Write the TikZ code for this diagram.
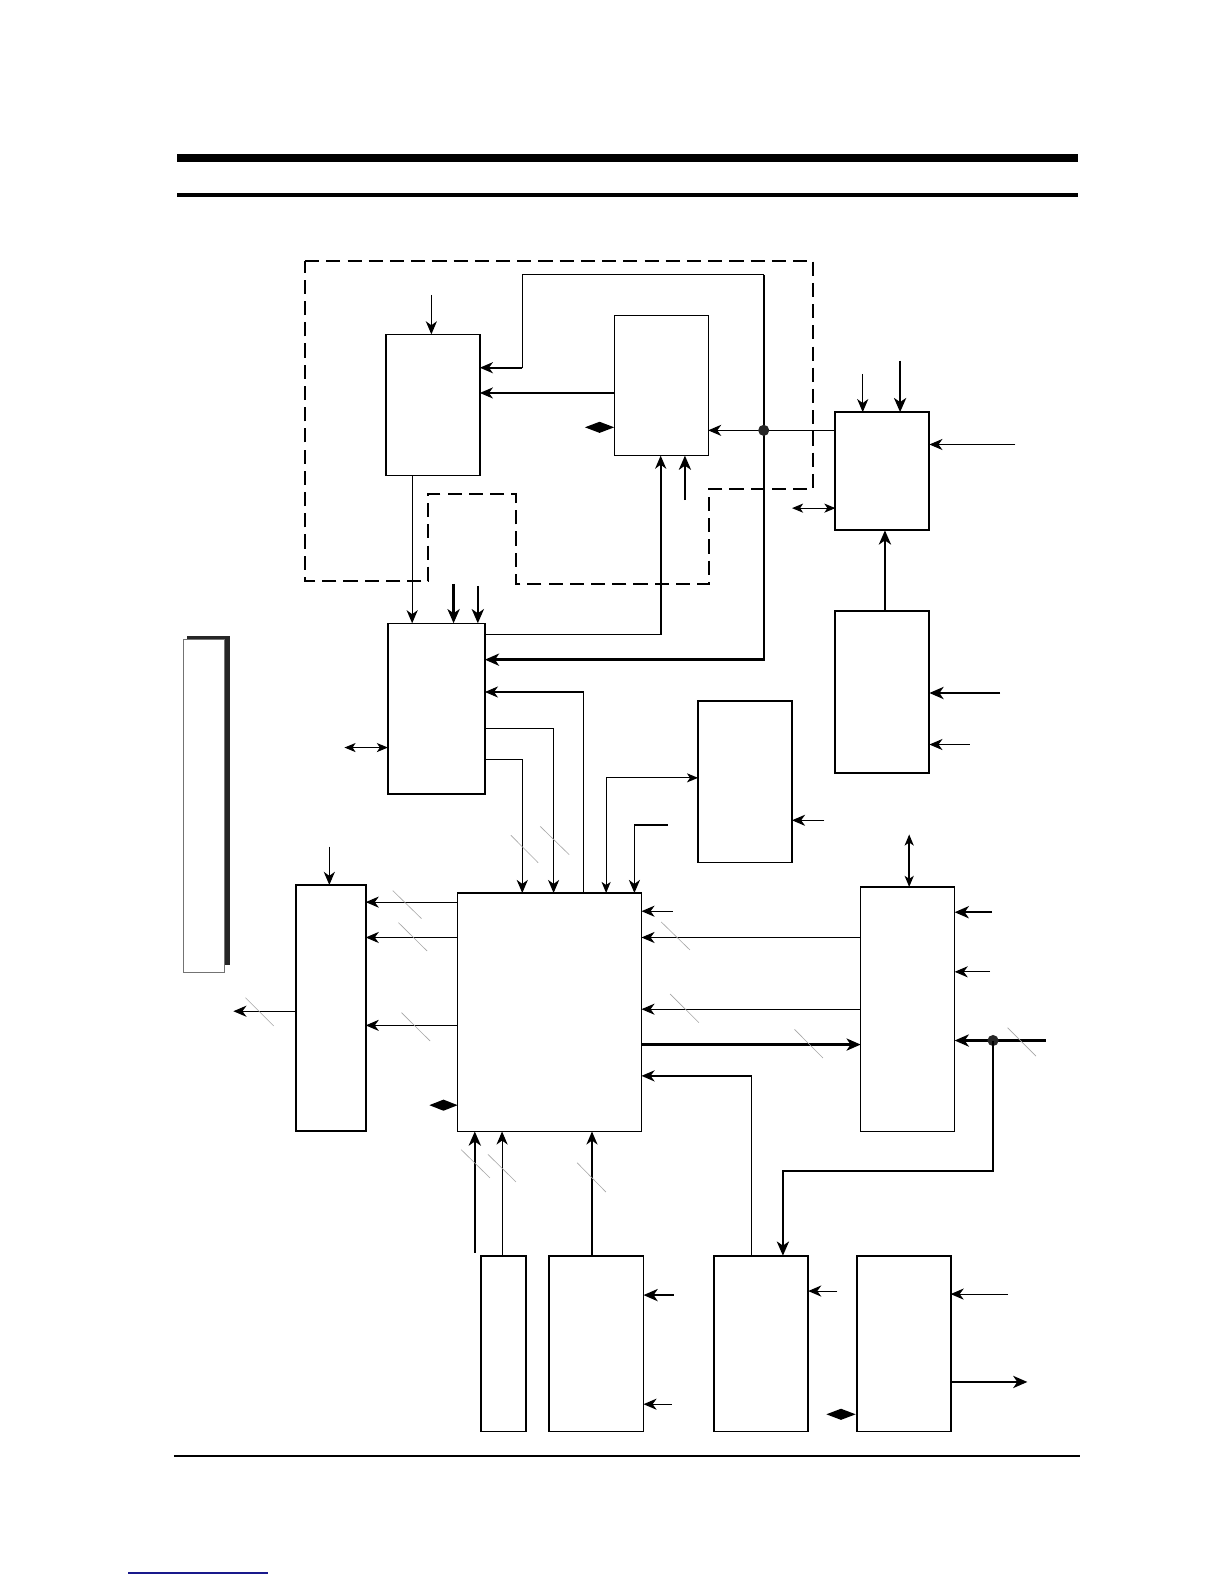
\documentclass[tikz,border=0pt]{standalone}
\usetikzlibrary{arrows.meta}
\definecolor{linkblue}{rgb}{0.1,0.1,0.55}
\begin{document}
\begin{tikzpicture}[x=1pt,y=-1pt,
  box/.style={draw, line width=1.3pt, inner sep=0pt, outer sep=0pt, anchor=north west},
  boxb/.style={box, line width=1.9pt},
  arr/.style={line width=1.1pt, -{Stealth[length=13pt,width=11pt,inset=4pt]}},
  marr/.style={line width=1.7pt, -{Stealth[length=13pt,width=11pt,inset=4pt]}},
  tarr/.style={line width=2.4pt, -{Stealth[length=14pt,width=12pt,inset=4pt]}},
  darr/.style={line width=1.1pt, {Stealth[length=11pt,width=9pt,inset=3pt]}-{Stealth[length=11pt,width=9pt,inset=3pt]}},
  slash/.style={black!35, line width=0.6pt},
  dot/.style={circle, fill=black!85, inner sep=0pt, minimum size=11pt},
  dashline/.style={line width=2.2pt, dash pattern=on 14pt off 7pt}
]
\useasboundingbox (0,0) rectangle (1212,1568);
\fill[white] (0,0) rectangle (1212,1568);

% header and footer rules
\fill (175,152) rectangle (1067,160);
\fill (175,191) rectangle (1067,195);
\draw[line width=2.4pt] (172,1441) -- (1069,1441);
\draw[line width=1.6pt, linkblue] (127,1557) -- (265,1557);

% left panel
\fill[black!85] (185.5,630) rectangle (227.5,955.5);
\draw[fill=white, draw=black!55, line width=1pt] (181.5,633) rectangle (222,962.5);

% dashed outline
\draw[dashline] (302,258) -- (805,258) -- (805,484) -- (702,484) -- (702,578) -- (511,578)
  -- (511,489) -- (424,489) -- (424,575) -- (302,575) -- cycle;

% boxes
\node[box, minimum width=93pt, minimum height=140pt] (A) at (382,331) {};
\node[box, minimum width=93pt, minimum height=139pt] (B) at (608,312) {};
\node[box, minimum width=96pt, minimum height=169pt] (C) at (384,617) {};
\node[boxb, minimum width=93pt, minimum height=117pt] (D) at (827,408) {};
\node[boxb, minimum width=93pt, minimum height=160pt] (E) at (827,605) {};
\node[box, minimum width=93pt, minimum height=160pt] (F) at (691,694) {};
\node[box, minimum width=182pt, minimum height=236pt] (M) at (453,884) {};
\node[boxb, minimum width=69pt, minimum height=244pt] (H) at (293,876) {};
\node[box, minimum width=93pt, minimum height=242pt] (G) at (852,878) {};
\node[boxb, minimum width=45pt, minimum height=174pt] (K) at (476,1243) {};
\node[boxb, minimum width=94pt, minimum height=174pt] (L) at (543,1243) {};
\node[boxb, minimum width=93pt, minimum height=174pt] (J) at (707,1243) {};
\node[boxb, minimum width=93pt, minimum height=174pt] (N) at (848,1243) {};

% top group connectors
\coordinate (pA) at (427,292);
\draw[arr] (pA) -- (pA |- A.north);
\draw[arr] (B.west |- 0,389) -- (A.east |- 0,389);
\coordinate (jt) at (756,272);
\draw[line width=1.2pt] (jt) -- (517,272) -- (517,364);
\draw[marr] (517,364) -- (A.east |- 0,364);
\draw[tarr] (jt) -- (756,653) -- (C.east |- 0,653);
\draw[arr] (D.west |- 0,426) -- (B.east |- 0,426);
\node[dot] (j1) at (756,426) {};
\fill (579,423) -- (593.5,417.5) -- (608,423) -- (593.5,428.5) -- cycle;
\draw[marr] (C.east |- 0,628) -| (B.south -| 654,0);
\coordinate (pB) at (678,495);
\draw[tarr] (pB) -- (pB |- B.south);

% C connectors
\draw[arr] (A.south -| 408,0) -- (C.north -| 408,0);
\coordinate (pC1) at (449,578);
\draw[tarr] (pC1) -- (pC1 |- C.north);
\coordinate (pC2) at (473,580);
\draw[tarr] (pC2) -- (pC2 |- C.north);
\draw[arr] (M.north -| 578,0) |- (C.east |- 0,685);
\draw[arr] (C.east |- 0,721) -| (M.north -| 548,0);
\draw[arr] (C.east |- 0,752) -| (M.north -| 517,0);
\coordinate (pC3) at (341,740);
\draw[darr] (pC3) -- (pC3 -| C.west);

% F connectors
\draw[darr] (M.north -| 600,0) |- (F.west |- 0,770);
\coordinate (pM1) at (661,817);
\draw[marr] (pM1) -| (M.north -| 628,0);
\coordinate (pF) at (816,812);
\draw[arr] (pF) -- (pF -| F.east);

% D and E
\coordinate (pD1) at (854,370);
\draw[arr] (pD1) -- (pD1 |- D.north);
\coordinate (pD2) at (891,357);
\draw[tarr] (pD2) -- (pD2 |- D.north);
\coordinate (pD3) at (1005,440);
\draw[arr] (pD3) -- (pD3 -| D.east);
\coordinate (pD4) at (784,503);
\draw[darr] (pD4) -- (pD4 -| D.west);
\draw[tarr] (E.north -| 876,0) -- (D.south -| 876,0);
\coordinate (pE1) at (990,686);
\draw[tarr] (pE1) -- (pE1 -| E.east);
\coordinate (pE2) at (960,737);
\draw[arr] (pE2) -- (pE2 -| E.east);

% M right side
\coordinate (pM2) at (666,902);
\draw[arr] (pM2) -- (pM2 -| M.east);
\draw[arr] (G.west |- 0,928) -- (M.east |- 0,928);
\draw[arr] (G.west |- 0,999) -- (M.east |- 0,999);
\draw[tarr] (M.east |- 0,1034) -- (G.west |- 0,1034);
\draw[marr] (J.north -| 744,0) |- (M.east |- 0,1065);

% M left side and H
\draw[arr] (M.west |- 0,893) -- (H.east |- 0,893);
\draw[arr] (M.west |- 0,928) -- (H.east |- 0,928);
\draw[arr] (M.west |- 0,1015) -- (H.east |- 0,1015);
\coordinate (pH1) at (326,838);
\draw[arr] (pH1) -- (pH1 |- H.north);
\coordinate (pH2) at (231,1001);
\draw[arr] (H.west |- pH2) -- (pH2);
\fill (425,1094) -- (439,1088.5) -- (453,1094) -- (439,1099.5) -- cycle;

% M bottom
\coordinate (pM3) at (470,1240);
\draw[tarr] (pM3) -- (pM3 |- M.south);
\draw[arr] (K.north -| 497,0) -- (M.south -| 497,0);
\draw[marr] (L.north -| 586,0) -- (M.south -| 586,0);

% G
\coordinate (pG1) at (900,826);
\draw[darr, line width=1.5pt] (pG1) -- (pG1 |- G.north);
\coordinate (pG2) at (982,903);
\draw[tarr] (pG2) -- (pG2 -| G.east);
\coordinate (pG3) at (980,962);
\draw[arr] (pG3) -- (pG3 -| G.east);
\coordinate (pG4) at (1035,1030);
\draw[tarr] (pG4) -- (pG4 -| G.east);
\node[dot] (j2) at (983,1030) {};
\draw[tarr] (j2.center) -- (983,1159) -| (J.north -| 775,0);

% bottom row
\coordinate (pL1) at (667,1282);
\draw[tarr] (pL1) -- (pL1 -| L.east);
\coordinate (pL2) at (665,1390);
\draw[arr] (pL2) -- (pL2 -| L.east);
\coordinate (pJ) at (829,1278);
\draw[arr] (pJ) -- (pJ -| J.east);
\fill (818,1400) -- (832.5,1394.5) -- (847,1400) -- (832.5,1405.5) -- cycle;
\coordinate (pN1) at (998,1281);
\draw[arr] (pN1) -- (pN1 -| N.east);
\coordinate (pN2) at (1017,1368);
\draw[tarr] (N.east |- pN2) -- (pN2);

% bus slashes
\draw[slash] (505.7,826.8) -- (532.7,854);
\draw[slash] (534.7,818) -- (563.4,846);
\draw[slash] (654.5,912.6) -- (683,940.4);
\draw[slash] (663.4,984) -- (691.8,1012.3);
\draw[slash] (786.5,1019) -- (814.6,1047.3);
\draw[slash] (388.8,881.6) -- (417.2,909.3);
\draw[slash] (394.4,913.3) -- (422.8,941.4);
\draw[slash] (397.4,1002.4) -- (425.8,1030.5);
\draw[slash] (243,987.6) -- (271,1015.6);
\draw[slash] (456.5,1138) -- (485,1166);
\draw[slash] (483,1142.7) -- (510.8,1170);
\draw[slash] (571.3,1151) -- (599.8,1180);
\draw[slash] (997.4,1017.3) -- (1025.5,1045.4);
\end{tikzpicture}
\end{document}
